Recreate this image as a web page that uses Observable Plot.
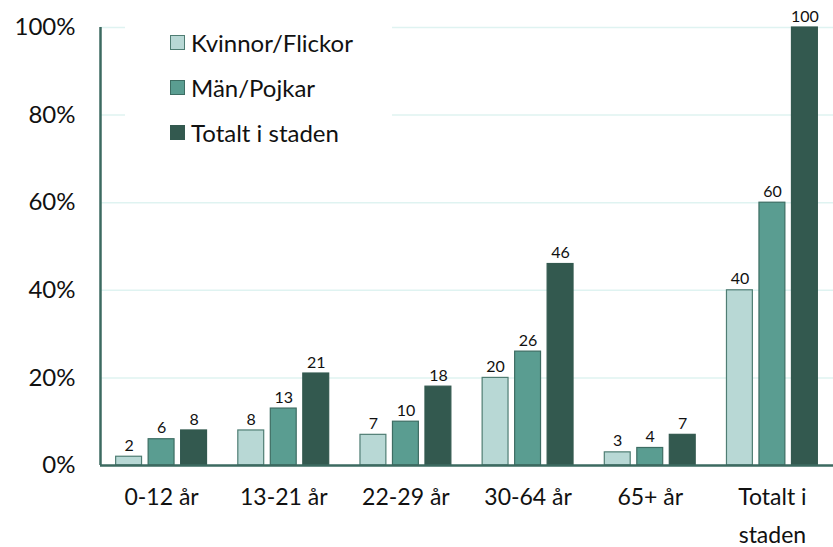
<!DOCTYPE html>
<html>
<head>
<meta charset="utf-8">
<script src="https://cdn.jsdelivr.net/npm/d3@7"></script>
<script src="https://cdn.jsdelivr.net/npm/@observablehq/plot@0.6"></script>
<style>
  body { margin: 0; background: #fff; font-family: Lato, "Open Sans", sans-serif; }
  #wrap { position: relative; width: 833px; height: 547px; }
  #legend { position: absolute; left: 125px; top: 18px; width: 267px; height: 140px; background: #fff; }
  .item { position: absolute; left: 45px; display: flex; align-items: center; font-size: 24px; color: #111; }
  .sw { width: 13px; height: 13px; margin-right: 6px; border: 1px solid; }
</style>
</head>
<body>
<div id="wrap"><div id="legend"></div></div>
<script>
const categories = ["0-12 år", "13-21 år", "22-29 år", "30-64 år", "65+ år", "Totalt i staden"];
const series = ["Kvinnor/Flickor", "Män/Pojkar", "Totalt i staden"];
const kvinnor = [2, 8, 7, 20, 3, 40];
const man = [6, 13, 10, 26, 4, 60];
const totalt = [8, 21, 18, 46, 7, 100];
const yTicks = [0, 20, 40, 60, 80, 100];
const fills = ["#b8d8d5", "#5a9d91", "#33594f"];
const strokes = ["#4f7d73", "#3d6d63", "#33594f"];

// layout within a category slot (units of one category)
const barStep = 0.266, barHalf = 0.106;

const data = [];
categories.forEach((c, i) => {
  [kvinnor, man, totalt].forEach((arr, j) =>
    data.push({cat: c, ci: i, si: j, series: series[j], value: arr[i]}));
});
const center = d => d.ci + 0.5 + (d.si - 1) * barStep;

const chart = Plot.plot({
  width: 833,
  height: 547,
  marginLeft: 100,
  marginRight: 0,
  marginTop: 27,
  marginBottom: 82,
  style: {fontFamily: "Lato, 'Open Sans', sans-serif", background: "#fff"},
  x: {type: "linear", domain: [0, categories.length], axis: null},
  y: {domain: [0, 100], axis: null, label: null},
  marks: [
    Plot.gridY(yTicks, {stroke: "#dff3f1", strokeOpacity: 1, strokeWidth: 1.5}),
    Plot.axisY(yTicks, {tickSize: 0, tickPadding: 25, fontSize: 24, fill: "#111", label: null, tickFormat: d => d + "%"}),
    Plot.axisX(categories.map((c, i) => i + 0.5), {anchor: "bottom", tickSize: 0, tickPadding: 13, fontSize: 23,
      fill: "#111", lineHeight: 1.65, label: null,
      tickFormat: v => { const c = categories[Math.round(v - 0.5)]; return c === "Totalt i staden" ? "Totalt i\nstaden" : c; }}),
    Plot.rectY(data, {x1: d => center(d) - barHalf, x2: d => center(d) + barHalf, y: "value",
      fill: d => fills[d.si], stroke: d => strokes[d.si], strokeWidth: 1.2}),
    Plot.text(data, {x: center, y: "value", text: d => String(d.value), dy: -11, fontSize: 16, fill: "#111"}),
    Plot.ruleY([0], {stroke: "#3c6a60", strokeWidth: 2.5}),
    Plot.ruleX([0], {y1: 0, y2: 100, stroke: "#3c6a60", strokeWidth: 2.5})
  ]
});
document.getElementById("wrap").prepend(chart);

const legend = document.getElementById("legend");
series.forEach((s, j) => {
  const it = document.createElement("div");
  it.className = "item";
  it.style.top = (10 + j * 45) + "px";
  it.innerHTML = `<span class="sw" style="background:${fills[j]};border-color:${strokes[j]}"></span><span>${s}</span>`;
  legend.appendChild(it);
});
</script>
</body>
</html>
